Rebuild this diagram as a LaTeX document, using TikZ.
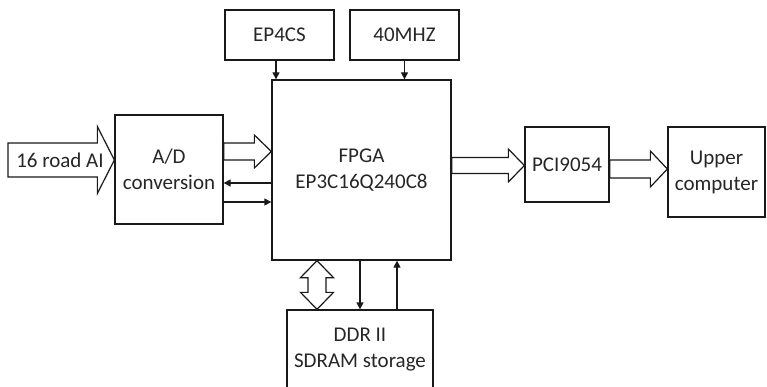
\documentclass[tikz,border=0pt]{standalone}
\usepackage{fontspec}
\setmainfont{Carlito}
\usetikzlibrary{arrows.meta,calc}
\newcommand{\hfat}[5]{%
  \draw[fatarrow] let \p1=#1, \p2=#2 in
   (\x1,\y1+#3) -- (\x2-#5,\y1+#3) -- (\x2-#5,\y1+#4) -- (\x2,\y1) --
   (\x2-#5,\y1-#4) -- (\x2-#5,\y1-#3) -- (\x1,\y1-#3) -- cycle;}
\begin{document}
\begin{tikzpicture}[x=1pt,y=-1pt,
  box/.style={draw=black!90,line width=1.3pt,inner sep=0pt,align=center,
    text=black!85,font=\fontsize{21}{26}\selectfont},
  lbl/.style={inner sep=0pt,align=center,text=black!85,font=\fontsize{21}{26}\selectfont},
  fatarrow/.style={draw=black!90,line width=1.2pt,fill=white,line join=miter},
  thinarrow/.style={draw=black!90,line width=1.3pt,-{Triangle[length=7pt,width=7pt]}}]
\useasboundingbox (0,0) rectangle (767,387);
\node[box,minimum width=109,minimum height=50] (ep) at (279.5,35) {EP4CS};
\node[box,minimum width=109,minimum height=50] (mhz) at (404.5,35) {40MHZ};
\node[box,minimum width=179,minimum height=180] (fpga) at (361.5,170) {FPGA\\EP3C16Q240C8};
\node[box,minimum width=108,minimum height=109] (ad) at (169,169.5) {A/D\\conversion};
\node[box,minimum width=84,minimum height=75] (pci) at (567,164.5) {PCI9054};
\node[box,minimum width=97,minimum height=90] (up) at (716.5,172) {Upper\\computer};
\node[box,minimum width=146,minimum height=80] (ddr) at (360,350) {DDR II\\SDRAM storage};
% helper coordinates
\coordinate (ains) at (8,160);
\coordinate (yai) at (0,160);
\coordinate (yad) at (0,151.5);
\coordinate (ypci) at (0,165.5);
\coordinate (yup) at (0,169);
\coordinate (yback) at (0,183);
\coordinate (yfwd) at (0,202);
\coordinate (xep) at (276,0);
\coordinate (xbus) at (317,0);
\coordinate (xdn) at (360,0);
\coordinate (xupw) at (397,0);
% fat arrows
\hfat{(ains)}{(ad.west |- yai)}{17pt}{33.5pt}{17pt}
\node[lbl] (ai) at (60,160) {16 road AI};
\hfat{(ad.east |- yad)}{(fpga.west |- yad)}{8.5pt}{16.5pt}{17pt}
\hfat{(fpga.east |- ypci)}{(pci.west |- ypci)}{8pt}{16.5pt}{16pt}
\hfat{(pci.east |- yup)}{(up.west |- yup)}{9pt}{18pt}{17pt}
% vertical double arrow
\draw[fatarrow] let \p1=(xbus |- fpga.south), \p2=(xbus |- ddr.north) in
  (\x1,\y1) -- (\x1+16.5pt,\y1-17pt) -- (\x1+9pt,\y1-17pt) -- (\x1+9pt,\y2+17pt) --
  (\x1+16.5pt,\y2+17pt) -- (\x1,\y2) -- (\x1-16.5pt,\y2+17pt) -- (\x1-9pt,\y2+17pt) --
  (\x1-9pt,\y1-17pt) -- (\x1-16.5pt,\y1-17pt) -- cycle;
% thin arrows
\draw[thinarrow] (xep |- ep.south) -- (xep |- fpga.north);
\draw[thinarrow] (mhz.south) -- (mhz.south |- fpga.north);
\draw[thinarrow] (fpga.west |- yback) -- (ad.east |- yback);
\draw[thinarrow] (ad.east |- yfwd) -- (fpga.west |- yfwd);
\draw[thinarrow] (xdn |- fpga.south) -- (xdn |- ddr.north);
\draw[thinarrow] (xupw |- ddr.north) -- (xupw |- fpga.south);
\end{tikzpicture}
\end{document}
